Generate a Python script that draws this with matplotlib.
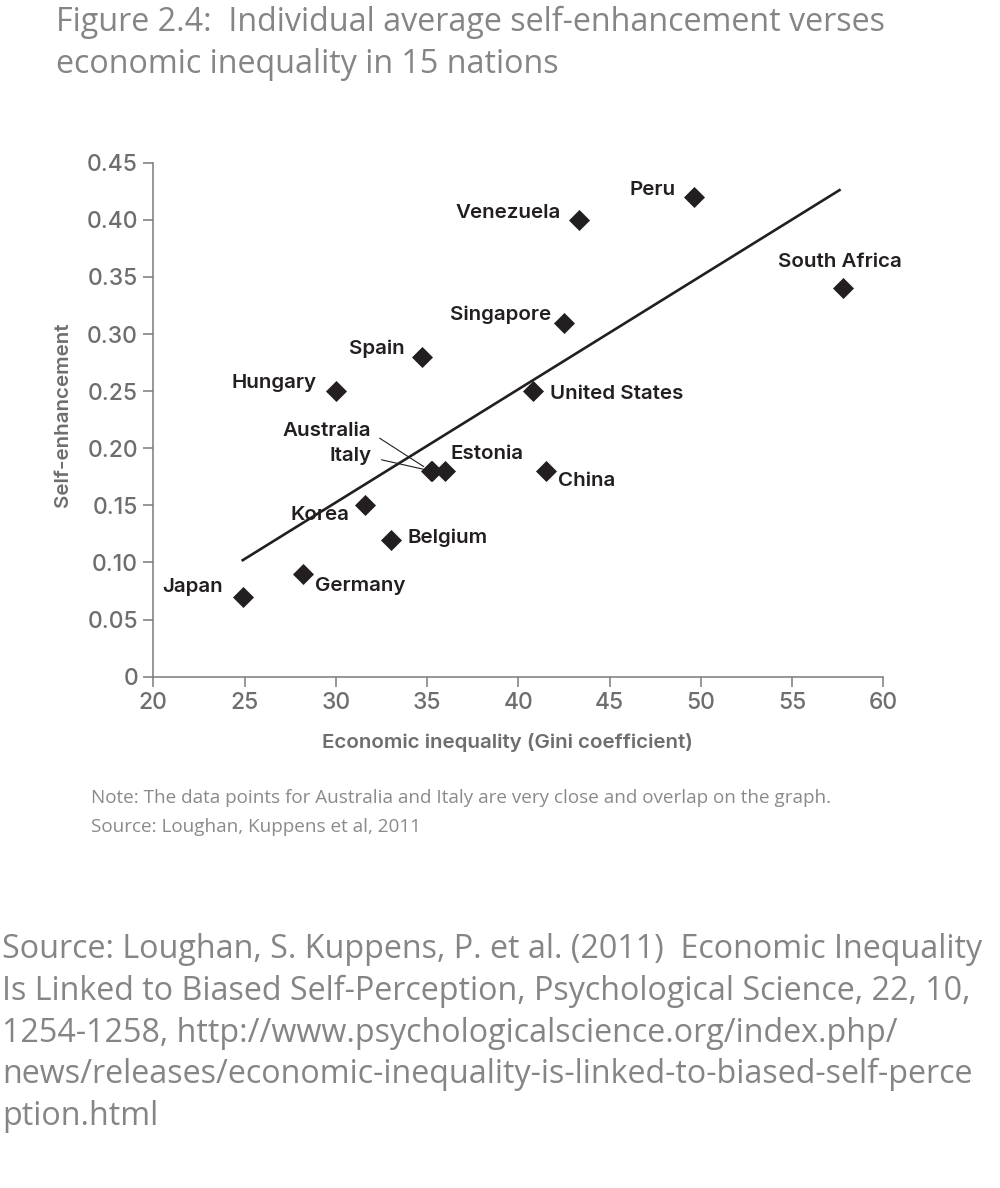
import matplotlib
matplotlib.use("Agg")
import matplotlib.pyplot as plt

# --- data ---
countries = ["Japan", "Germany", "Korea", "Belgium", "Australia", "Italy", "Estonia",
             "China", "Hungary", "Spain", "United States", "Singapore", "Venezuela",
             "Peru", "South Africa"]
gini = [24.9, 28.2, 31.6, 33.0, 35.2, 35.25, 36.0, 41.5, 30.0, 34.7, 40.8, 42.5, 43.3, 49.6, 57.8]
self_enh = [0.07, 0.09, 0.15, 0.12, 0.18, 0.18, 0.18, 0.18, 0.25, 0.28, 0.25, 0.31, 0.40, 0.42, 0.34]

fit_x = [24.9, 57.6]
fit_y = [0.102, 0.426]

x_ticks = [20, 25, 30, 35, 40, 45, 50, 55, 60]
y_ticks = [0, 0.05, 0.10, 0.15, 0.20, 0.25, 0.30, 0.35, 0.40, 0.45]
y_ticklabels = ["0", "0.05", "0.10", "0.15", "0.20", "0.25", "0.30", "0.35", "0.40", "0.45"]

title_lines = ["Figure 2.4:  Individual average self-enhancement verses",
               "economic inequality in 15 nations"]
note_lines = ["Note: The data points for Australia and Italy are very close and overlap on the graph.",
              "Source: Loughan, Kuppens et al, 2011"]
source_lines = ["Source: Loughan, S. Kuppens, P. et al. (2011)  Economic Inequality",
                "Is Linked to Biased Self-Perception, Psychological Science, 22, 10,",
                "1254-1258, http://www.psychologicalscience.org/index.php/",
                "news/releases/economic-inequality-is-linked-to-biased-self-perce",
                "ption.html"]

# label placement (offset in points, horizontal alignment)
label_style = {
    "Japan": ((-14, 7), "right"),
    "Germany": ((9, -9), "left"),
    "Korea": ((-11, -7), "right"),
    "Belgium": ((12, 1), "left"),
    "Estonia": ((4, 12), "left"),
    "China": ((9, -7), "left"),
    "Hungary": ((-14, 6), "right"),
    "Spain": ((-12, 6), "right"),
    "United States": ((12, -2), "left"),
    "Singapore": ((-9, 6), "right"),
    "Venezuela": ((-13, 5), "right"),
    "Peru": ((-13, 5), "right"),
    "South Africa": ((-2, 19), "center"),
}
leader_style = {
    "Australia": (-43, 29),
    "Italy": (-43, 11),
}

W, H = 1000, 1188
fig = plt.figure(figsize=(W / 100, H / 100), dpi=100, facecolor="white")
ax = fig.add_axes([153.3 / W, 1 - 676.7 / H, 730 / W, 514 / H])

ink = "#231f20"
grey = "#6e6e6e"
chart_font = "Inter"
text_font = "Open Sans"
label_size = 14.8

ax.plot(fit_x, fit_y, color=ink, linewidth=1.9, zorder=2)
ax.scatter(gini, self_enh, marker="D", s=115, color=ink, linewidths=0, zorder=3, clip_on=False)

for name, x, y in zip(countries, gini, self_enh):
    if name in label_style:
        (dx, dy), ha = label_style[name]
        ax.annotate(name, (x, y), xytext=(dx, dy), textcoords="offset points",
                    ha=ha, va="center", fontsize=label_size, fontweight="semibold",
                    color=ink, family=chart_font)
    else:
        dx, dy = leader_style[name]
        ax.annotate(name, (x, y), xytext=(dx, dy), textcoords="offset points",
                    ha="right", va="center", fontsize=label_size, fontweight="semibold",
                    color=ink, family=chart_font,
                    arrowprops=dict(arrowstyle="-", color=ink, lw=0.8,
                                    relpos=(1.0, 0.4), shrinkA=5, shrinkB=6))

ax.set_xlim(20, 60)
ax.set_ylim(0, 0.45)
ax.set_xticks(x_ticks)
ax.set_xticklabels([str(t) for t in x_ticks])
ax.set_yticks(y_ticks)
ax.set_yticklabels(y_ticklabels)

for side in ["top", "right"]:
    ax.spines[side].set_visible(False)
for side in ["left", "bottom"]:
    ax.spines[side].set_color("#7a7a7a")
    ax.spines[side].set_linewidth(1.1)

ax.tick_params(axis="both", length=7, width=1.1, color="#7a7a7a", pad=4,
               labelsize=16.5, labelcolor=grey)
for lab in ax.get_xticklabels() + ax.get_yticklabels():
    lab.set_family(chart_font)
    lab.set_fontweight("medium")

ax.set_xlabel("Economic inequality (Gini coefficient)", fontsize=14.8,
              fontweight="semibold", color=grey, family=chart_font)
ax.set_ylabel("Self-enhancement", fontsize=14.8, fontweight="semibold",
              color=grey, family=chart_font)
ax.xaxis.set_label_coords((507 - 153.3) / 730, (676.7 - 742) / 514)
ax.xaxis.label.set_va("center")
ax.yaxis.set_label_coords((63 - 153.3) / 730, (676.7 - 415) / 514)
ax.yaxis.label.set_va("center")

# --- surrounding text ---
title_base = [31, 73]
for line, yb in zip(title_lines, title_base):
    fig.text(56 / W, 1 - yb / H, line, ha="left", va="baseline", fontsize=23.2,
             color="#858585", family=text_font)

note_base = [803, 832]
for line, yb in zip(note_lines, note_base):
    fig.text(91 / W, 1 - yb / H, line, ha="left", va="baseline", fontsize=13.6,
             color="#8a8a8a", family=text_font)

source_base = [958, 1000, 1042, 1083, 1125]
for line, yb in zip(source_lines, source_base):
    fig.text(2 / W, 1 - yb / H, line, ha="left", va="baseline", fontsize=23.2,
             color="#858585", family=text_font)

fig.savefig("out.png", dpi=100, facecolor="white")
